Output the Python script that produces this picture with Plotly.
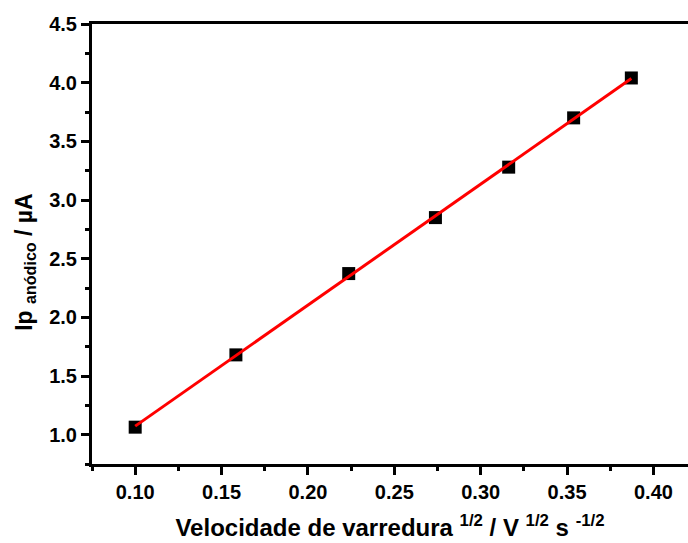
import numpy as np
import plotly.graph_objects as go

x_vals = [0.1000, 0.1583, 0.2236, 0.2738, 0.3162, 0.3538, 0.3872]
y_vals = [1.064, 1.68, 2.373, 2.85, 3.28, 3.70, 4.04]

x_ticks = [0.10, 0.15, 0.20, 0.25, 0.30, 0.35, 0.40]
y_ticks = [1.0, 1.5, 2.0, 2.5, 3.0, 3.5, 4.0, 4.5]

slope, intercept = np.polyfit(x_vals, y_vals, 1)
fit_x = [x_vals[0], x_vals[-1]]
fit_y = [slope * v + intercept for v in fit_x]

font_family = "Liberation Sans, Arial, sans-serif"

fig = go.Figure()
fig.add_trace(go.Scatter(x=x_vals, y=y_vals, mode="markers",
                         marker=dict(symbol="square", size=13, color="black",
                                     line=dict(width=0))))
fig.add_trace(go.Scatter(x=fit_x, y=fit_y, mode="lines",
                         line=dict(color="#ff0000", width=3)))

fig.update_layout(
    width=688, height=543,
    margin=dict(l=92, r=0, t=24, b=79),
    plot_bgcolor="white", paper_bgcolor="white",
    showlegend=False,
    font=dict(family=font_family, color="black"),
)
fig.update_xaxes(
    range=[0.075, 0.42], tickvals=x_ticks,
    ticktext=[f"<b>{v:.2f}</b>" for v in x_ticks],
    showgrid=False, zeroline=False,
    showline=True, linecolor="black", linewidth=3, mirror=True,
    ticks="outside", ticklen=8, tickwidth=3, tickcolor="black",
    minor=dict(ticks="outside", ticklen=4, tickwidth=3, tickcolor="black", dtick=0.025, tick0=0.075),
    tickfont=dict(size=20, family=font_family, color="black"),
    title=dict(text="<b>Velocidade de varredura <sup>1/2</sup> / V <sup>1/2</sup> s <sup>-1/2</sup></b>",
               font=dict(size=24, family=font_family, color="black"), standoff=18),
)
fig.update_yaxes(
    range=[0.75, 4.5], tickvals=y_ticks,
    ticktext=[f"<b>{v:.1f}</b>" for v in y_ticks],
    showgrid=False, zeroline=False,
    showline=True, linecolor="black", linewidth=3, mirror=False,
    ticks="outside", ticklen=8, tickwidth=3, tickcolor="black",
    minor=dict(ticks="outside", ticklen=4, tickwidth=3, tickcolor="black", dtick=0.25, tick0=0.75),
    tickfont=dict(size=20, family=font_family, color="black"),
)
fig.add_annotation(
    text="<b>Ip <sub>anódico</sub> / µA</b>", textangle=-90,
    xref="paper", yref="paper", x=-0.112, y=0.46,
    xanchor="center", yanchor="middle", showarrow=False,
    font=dict(size=23, family=font_family, color="black"),
)

fig.write_html("out.html")
